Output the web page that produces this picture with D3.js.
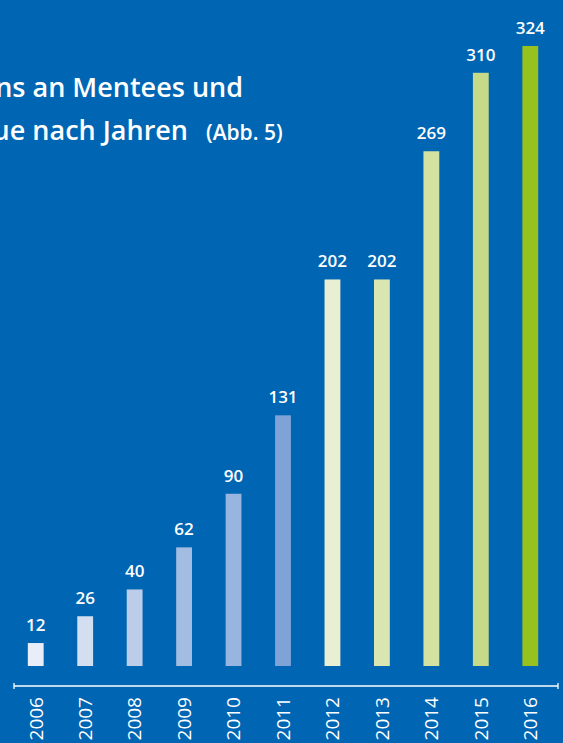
<!DOCTYPE html>
<html>
<head>
<meta charset="utf-8">
<script src="https://cdn.jsdelivr.net/npm/d3@7"></script>
<style>
    html, body { margin: 0; padding: 0; background: #0066b3; overflow: hidden; }
    svg { display: block; font-family: "Open Sans", "Noto Sans", sans-serif; }
</style>
</head>
<body>
<div id="chart"></div>
<script>
const years = ["2006", "2007", "2008", "2009", "2010", "2011", "2012", "2013", "2014", "2015", "2016"];
const values = [12, 26, 40, 62, 90, 131, 202, 202, 269, 310, 324];
const barColors = ["#e9edf7", "#d3dff1", "#bccdea", "#a3bde2", "#97b5df", "#7fa3d6",
    "#e8efd2", "#d9e6b1", "#d2e2a0", "#c6da88", "#97c11f"];

function init() {
    const width = 563, height = 743;

    const svg = d3.select("#chart")
        .append("svg")
        .attr("width", width)
        .attr("height", height);

    svg.append("rect")
        .attr("width", width)
        .attr("height", height)
        .attr("fill", "#0066b3");

    // title, cut at the left edge like the source page
    const title = svg.append("g").attr("fill", "#fff").attr("font-weight", 600);
    title.append("text")
        .attr("x", 243)
        .attr("y", 97)
        .attr("text-anchor", "end")
        .attr("font-size", 27)
        .text("ns an Mentees und");
    title.append("text")
        .attr("x", 188)
        .attr("y", 140)
        .attr("text-anchor", "end")
        .attr("font-size", 27)
        .text("ue nach Jahren");
    title.append("text")
        .attr("x", 206)
        .attr("y", 140)
        .attr("font-size", 21)
        .text("(Abb. 5)");

    const x = d3.scaleBand()
        .domain(years)
        .range([11, 555])
        .paddingInner(0.68)
        .paddingOuter(0.34);

    const y = d3.scaleLinear()
        .domain([0, 324])
        .range([666, 46]);

    const data = years.map((yr, i) => ({ year: yr, value: values[i], color: barColors[i] }));

    svg.selectAll(".bar")
        .data(data)
        .enter()
        .append("rect")
        .attr("class", "bar")
        .attr("x", d => x(d.year))
        .attr("y", d => y(d.value))
        .attr("width", x.bandwidth())
        .attr("height", d => y(0) - y(d.value))
        .attr("fill", d => d.color);

    svg.selectAll(".val")
        .data(data)
        .enter()
        .append("text")
        .attr("class", "val")
        .attr("x", d => x(d.year) + x.bandwidth() / 2)
        .attr("y", d => y(d.value) - 12)
        .attr("text-anchor", "middle")
        .attr("fill", "#fff")
        .attr("font-size", 17)
        .attr("font-weight", 600)
        .text(d => d.value);

    // axis line with end ticks
    const axis = svg.append("g")
        .attr("transform", "translate(0, 686)")
        .call(d3.axisBottom(x).tickSize(0).tickFormat(""));
    axis.select(".domain").remove();
    axis.append("line")
        .attr("x1", 14).attr("x2", 558)
        .attr("stroke", "#fff").attr("stroke-width", 1.3);
    [14, 558].forEach(px => {
        axis.append("line")
            .attr("x1", px).attr("x2", px)
            .attr("y1", -3).attr("y2", 3)
            .attr("stroke", "#fff").attr("stroke-width", 1.3);
    });

    svg.selectAll(".yr")
        .data(years)
        .enter()
        .append("text")
        .attr("class", "yr")
        .attr("transform", d => `translate(${x(d) + x.bandwidth() / 2}, 697) rotate(-90)`)
        .attr("text-anchor", "end")
        .attr("dy", "0.36em")
        .attr("fill", "#fff")
        .attr("font-size", 19)
        .text(d => d);
}

window.onload = init;
</script>
</body>
</html>
